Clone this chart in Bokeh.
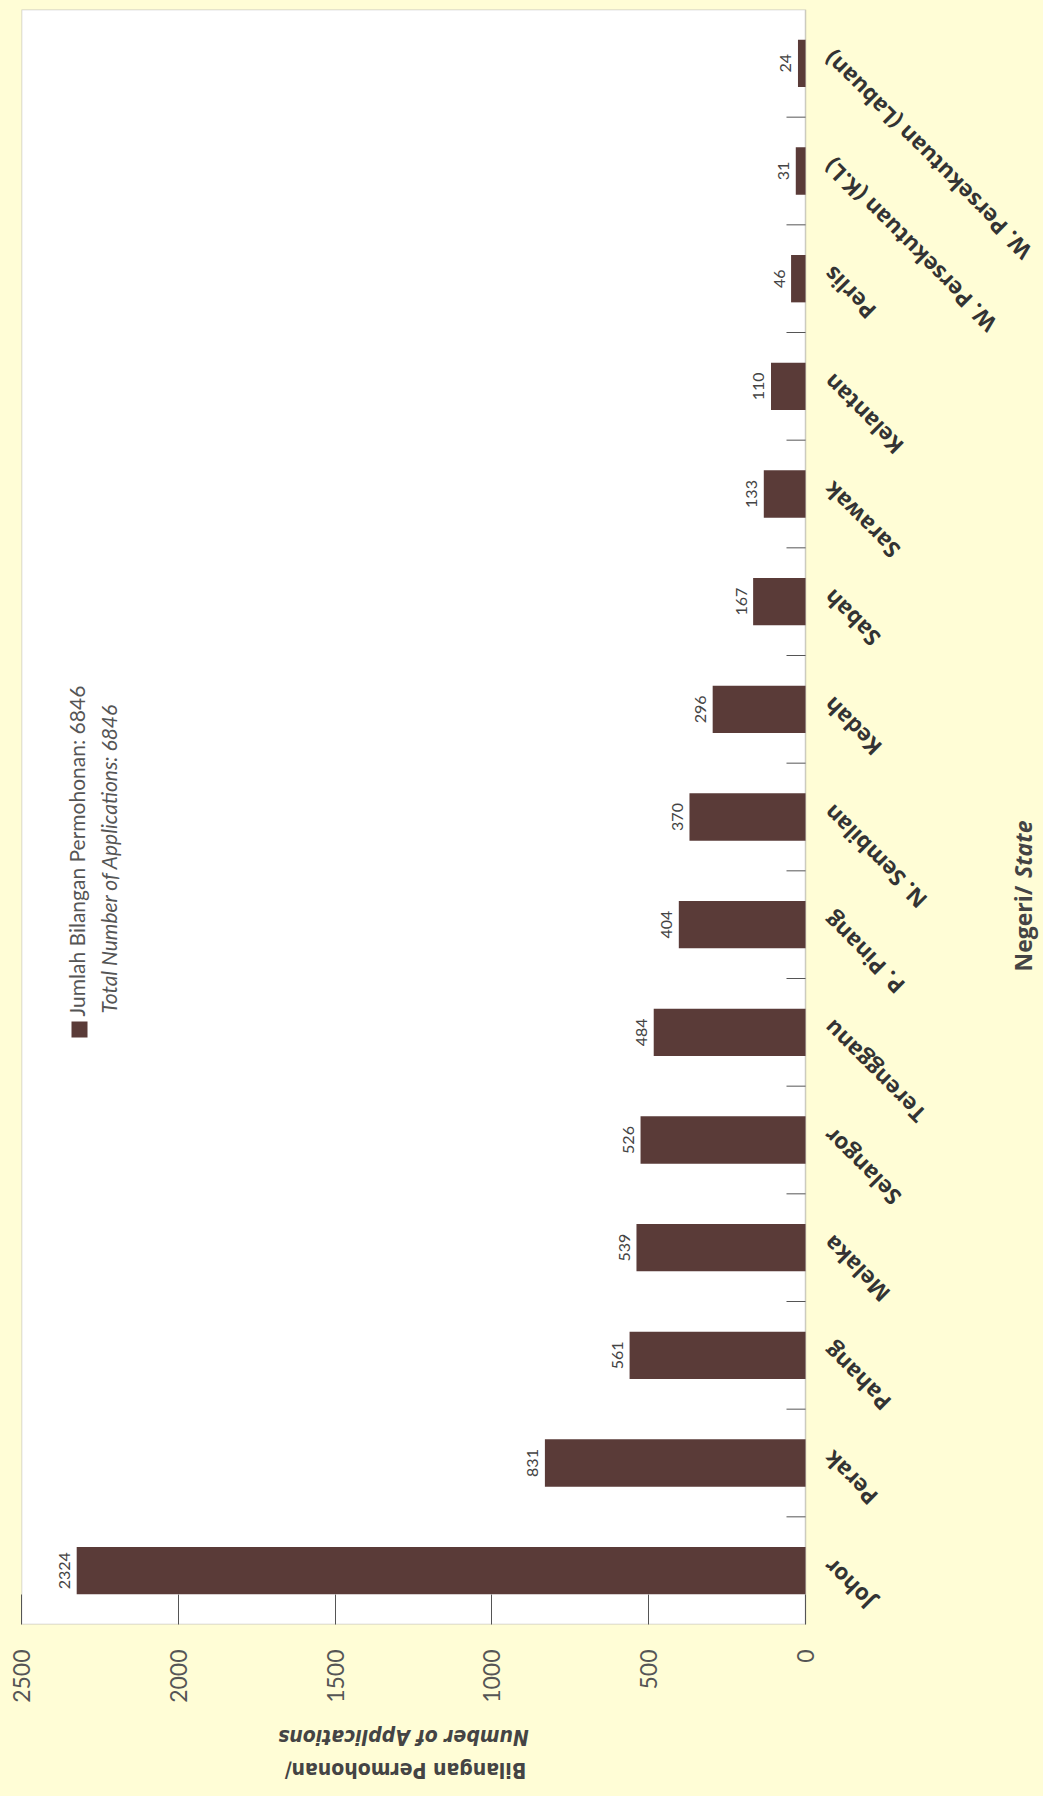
import math
from bokeh.plotting import figure
from bokeh.layouts import column
from bokeh.models import (Range1d, FixedTicker, LabelSet, Label,
                          ColumnDataSource, BoxAnnotation)
from bokeh.core.properties import value
from bokeh.embed import file_html
from bokeh.resources import INLINE

# ---- data (bottom to top in the picture) ----
states = ["Johor", "Perak", "Pahang", "Melaka", "Selangor", "Terengganu", "P. Pinang",
          "N. Sembilan", "Kedah", "Sabah", "Sarawak", "Kelantan", "Perlis",
          "W. Persekutuan (K.L)", "W. Persekutuan (Labuan)"]
applications = [2324, 831, 561, 539, 526, 484, 404, 370, 296, 167, 133, 110, 46, 31, 24]
value_ticks = [0, 500, 1000, 1500, 2000, 2500]
total = 6846

BAR = "#5a3b38"
PAGE_BG = "#FFFDD6"
INK = "#555555"

# page geometry (pixels, page origin = top-left of the window)
ORIGIN = 0
FRAME_L, PLOT_R, FRAME_R = 21, 805, 1043
FRAME_T, FRAME_B = 9, 1624
MAIN_BOTTOM = 1718
PAGE_BOTTOM = 1792
VMAX = value_ticks[-1]
N = len(states)
PX_PER_V = (PLOT_R - FRAME_L) / VMAX

def xv(px):
    return (PLOT_R - px) / PX_PER_V

def yv(py):
    return N * (FRAME_B - py) / (FRAME_B - FRAME_T)

src = ColumnDataSource(dict(
    states=states,
    pos=[i + 0.5 for i in range(N)],
    applications=applications,
    labels=[str(v) for v in applications],
    zero=[0] * N,
))
bounds = ColumnDataSource(dict(y=list(range(1, N)), x=[0] * (N - 1)))

x_range = Range1d(VMAX, xv(FRAME_R))
p = figure(frame_width=FRAME_R - FRAME_L, frame_height=FRAME_B - FRAME_T,
           x_range=x_range, y_range=Range1d(0, N),
           output_backend="svg", toolbar_location=None,
           x_axis_location="below", y_axis_location=None,
           min_border_left=FRAME_L - ORIGIN, min_border_top=FRAME_T - ORIGIN,
           min_border_right=0, min_border_bottom=MAIN_BOTTOM - FRAME_B)

p.background_fill_color = PAGE_BG
p.border_fill_color = PAGE_BG
p.outline_line_color = None
p.xgrid.visible = False
p.ygrid.visible = False

# white plotting area with its frame
p.add_layout(BoxAnnotation(left=0, right=VMAX, bottom=0, top=N, level="underlay",
                           fill_color="white", fill_alpha=1,
                           line_color=INK, line_width=1.5))

# value axis (bottom)
xa = p.xaxis[0]
xa.ticker = FixedTicker(ticks=value_ticks)
xa.major_label_orientation = math.pi / 2
xa.major_label_standoff = 25
xa.major_tick_in = 30
xa.major_tick_out = 0
xa.major_tick_line_color = INK
xa.axis_line_color = None
xa.major_label_text_font = "Lato"
xa.major_label_text_font_size = "23px"
xa.major_label_text_color = INK

# category separators (ticks pointing into the plot from its right edge)
p.ray(x="x", y="y", source=bounds, length=19, length_units="screen", angle=math.pi,
      line_color=INK, line_width=1)

# bars
p.hbar(y="pos", left=0, right="applications", height=0.44, source=src,
       fill_color=BAR, line_color=None)

# value labels
p.add_layout(LabelSet(x="applications", y="pos", text="labels", source=src,
                      x_offset=-12, angle=math.pi / 2, text_align="center",
                      text_baseline="middle", text_font=value("Lato"),
                      text_font_size="16px", text_color="#444444"))

# category labels
p.add_layout(LabelSet(x="zero", y="pos", text="states", source=src,
                      x_offset=22, y_offset=8, angle=3 * math.pi / 4, text_align="right",
                      text_baseline="middle", text_font=value("Open Sans"),
                      text_font_style="bold", text_font_size="22.5px", text_color="#333333"))

# category axis title
p.add_layout(Label(x=xv(1022), y=yv(971), text="Negeri/", angle=math.pi / 2,
                   text_align="left", text_baseline="middle", text_font="Open Sans",
                   text_font_style="bold", text_font_size="23px", text_color="#444444"))
p.add_layout(Label(x=xv(1022), y=yv(820), text="State", angle=math.pi / 2,
                   text_align="right", text_baseline="middle", text_font="Open Sans",
                   text_font_style="bold italic", text_font_size="23px", text_color="#444444"))

# legend
p.add_layout(BoxAnnotation(left=xv(87), right=xv(71), bottom=yv(1037), top=yv(1021),
                           fill_color=BAR, fill_alpha=1, line_color=None))
p.add_layout(Label(x=xv(76), y=yv(1016), text=f"Jumlah Bilangan Permohonan: {total}",
                   angle=math.pi / 2, text_align="left", text_baseline="middle",
                   text_font="Lato", text_font_size="21px", text_color=INK))
p.add_layout(Label(x=xv(108), y=yv(1013), text=f"Total Number of Applications: {total}",
                   angle=math.pi / 2, text_align="left", text_baseline="middle",
                   text_font="Lato", text_font_style="italic", text_font_size="21px",
                   text_color=INK))

# ---- strip below: value axis title (printed upside down) ----
b = figure(frame_width=FRAME_R - FRAME_L, frame_height=PAGE_BOTTOM - MAIN_BOTTOM,
           x_range=x_range, y_range=Range1d(0, PAGE_BOTTOM - MAIN_BOTTOM),
           output_backend="svg", toolbar_location=None,
           x_axis_location=None, y_axis_location=None,
           min_border_left=FRAME_L - ORIGIN, min_border_top=0, min_border_right=0,
           min_border_bottom=0)
b.background_fill_color = PAGE_BG
b.border_fill_color = PAGE_BG
b.outline_line_color = None
b.xgrid.visible = False
b.ygrid.visible = False

def yb(py):
    return PAGE_BOTTOM - py

NARROW = "Liberation Sans Narrow, DejaVu Sans Condensed, sans-serif"
b.add_layout(Label(x=xv(403), y=yb(1736), text="Number of Applications", angle=math.pi,
                   text_align="center", text_baseline="middle", text_font=NARROW,
                   text_font_style="bold italic", text_font_size="21px", text_color="#444444"))
b.add_layout(Label(x=xv(405), y=yb(1769), text="Bilangan Permohonan/", angle=math.pi,
                   text_align="center", text_baseline="middle", text_font=NARROW,
                   text_font_style="bold", text_font_size="21px", text_color="#444444"))

layout = column(p, b, spacing=0)
html = file_html(layout, INLINE)
html = html.replace("<head>", f"<head><style>body{{background:{PAGE_BG};}}</style>", 1)
open("out.html", "w").write(html)
